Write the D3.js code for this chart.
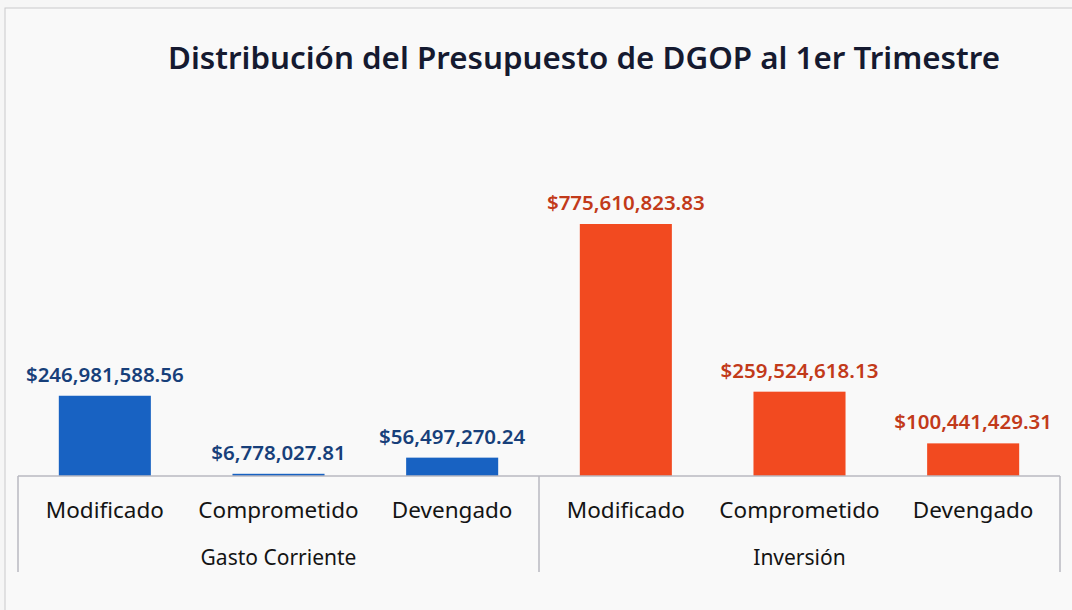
<!DOCTYPE html>
<html><head><meta charset="utf-8">
<script src="https://cdn.jsdelivr.net/npm/d3@7"></script>
<style>body{margin:0;background:#f6f6f6;}svg{display:block;}</style>
</head><body>
<svg id="c" width="1072" height="610"></svg>
<script>
const groups = ["Gasto Corriente", "Inversión"];
const categories = ["Modificado", "Comprometido", "Devengado"];
const gastoCorriente = [246981588.56, 6778027.81, 56497270.24];
const inversion = [775610823.83, 259524618.13, 100441429.31];
const seriesValues = [gastoCorriente, inversion];
const title = "Distribución del Presupuesto de DGOP al 1er Trimestre";

const barColors = ["#1862c2", "#f24a20"];
const labelColors = ["#173f7a", "#c23a1a"];
const font = "'Noto Sans', 'Open Sans', sans-serif";

const svg = d3.select("#c");
svg.append("rect").attr("x",5).attr("y",8).attr("width",1080).attr("height",620)
  .attr("fill","#f9f9f9").attr("stroke","#c9c9cc").attr("stroke-width",1);

svg.append("text").attr("x",584).attr("y",69).attr("text-anchor","middle")
  .attr("font-family",font).attr("font-size",31).attr("font-weight",600)
  .attr("textLength",832).attr("lengthAdjust","spacingAndGlyphs")
  .attr("fill","#151a30").text(title);

const rows = [];
groups.forEach((g,gi)=>categories.forEach((c,ci)=>rows.push({g,gi,c,ci,v:seriesValues[gi][ci],key:g+"|"+c})));

const left=18, right=1060, base=476;
const x = d3.scaleBand().domain(rows.map(r=>r.key)).range([left,right]).paddingInner(0.47).paddingOuter(0.235);
const y = d3.scaleLinear().domain([0, 775610823.83]).range([base, 224]);
const fmt = v => "$" + d3.format(",.2f")(v);

svg.selectAll("rect.bar").data(rows).join("rect").attr("class","bar")
  .attr("x",d=>x(d.key)).attr("width",x.bandwidth())
  .attr("y",d=>y(d.v)).attr("height",d=>Math.max(1.5, base-y(d.v)))
  .attr("fill",d=>barColors[d.gi]);

svg.selectAll("text.val").data(rows).join("text").attr("class","val")
  .attr("x",d=>x(d.key)+x.bandwidth()/2).attr("y",d=>Math.min(y(d.v), base-2)-14)
  .attr("text-anchor","middle").attr("font-family",font).attr("font-size",20.5).attr("font-weight",600)
  .attr("fill",d=>labelColors[d.gi]).text(d=>fmt(d.v));

// axis
const axisG = svg.append("g");
axisG.append("line").attr("x1",left).attr("x2",right).attr("y1",base).attr("y2",base).attr("stroke","#b9b9c0").attr("stroke-width",1.5);
const step = (right-left)/groups.length;
[0,1,2].forEach(i=>{
  const xx = left + i*step;
  axisG.append("line").attr("x1",xx).attr("x2",xx).attr("y1",base).attr("y2",572).attr("stroke","#b9b9c0").attr("stroke-width",1.5);
});
svg.selectAll("text.cat").data(rows).join("text").attr("class","cat")
  .attr("x",d=>x(d.key)+x.bandwidth()/2).attr("y",518)
  .attr("text-anchor","middle").attr("font-family",font).attr("font-size",22.5)
  .attr("fill","#141414").text(d=>d.c);
svg.selectAll("text.grp").data(groups).join("text").attr("class","grp")
  .attr("x",(d,i)=>left+step*(i+0.5)).attr("y",565)
  .attr("text-anchor","middle").attr("font-family",font).attr("font-size",21)
  .attr("fill","#141414").text(d=>d);
</script>
</body></html>
